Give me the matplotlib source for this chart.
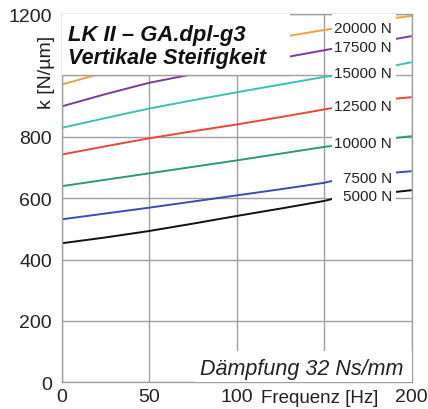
import matplotlib
matplotlib.use('Agg')
import matplotlib.pyplot as plt
from matplotlib.patches import Rectangle

# data
freq = [0, 25, 50, 75, 100, 125, 150, 158, 192, 200]
k_5000 = [453, 472, 493, 517, 542, 566, 591, 602, 621, 626]
k_7500 = [531, 550, 569, 589, 609, 629, 650, 661, 684, 688]
k_10000 = [639, 660, 681, 702, 723, 745, 767, 772, 797, 802]
k_12500 = [742, 769, 795, 818, 840, 864, 889, 897, 925, 929]
k_15000 = [829, 861, 892, 919, 945, 970, 995, 1001, 1034, 1043]
k_17500 = [899, 939, 976, 1004, 1030, 1056, 1082, 1090, 1120, 1128]
k_20000 = [970, 1010, 1046, 1075, 1100, 1124, 1148, 1155, 1188, 1194]

loads = ['5000 N', '7500 N', '10000 N', '12500 N', '15000 N', '17500 N', '20000 N']
series = [k_5000, k_7500, k_10000, k_12500, k_15000, k_17500, k_20000]
colors = ['#111111', '#3a4db0', '#2e9a6c', '#e8453c', '#3dbfb6', '#7a3c9c', '#f2a040']
label_y = [612, 671, 785, 906, 1012, 1099, 1160]

yticks = [0, 200, 400, 600, 800, 1200]
xticks = [0, 50, 100, 150, 200]
xticklabels = ['0', '50', '100', '', '200']

plt.rcParams['font.family'] = ['Liberation Sans', 'DejaVu Sans']

fig = plt.figure(figsize=(4.28, 4.10), dpi=100)
ax = fig.add_axes([0.1442, 0.0651, 0.962 - 0.1442, 0.9634 - 0.0651])

grey = '#a0a0a0'
for k, c in zip(series, colors):
    ax.plot(freq, k, color=c, lw=1.4, zorder=2, solid_capstyle='butt')

ax.set_xlim(0, 200)
ax.set_ylim(0, 1200)
ax.set_xticks(xticks)
ax.set_xticklabels(xticklabels)
ax.set_yticks(yticks)
ax.set_yticks([1000], minor=True)
ax.grid(True, which='both', color=grey, lw=1.0)
ax.set_axisbelow(True)
ax.tick_params(which='both', length=0, labelsize=14, colors='#222222')
ax.tick_params(axis='x', pad=4)
ax.tick_params(axis='y', pad=7)
for s in ax.spines.values():
    s.set_color(grey)
    s.set_linewidth(1.0)

# white boxes that hide lines and grid
ax.add_patch(Rectangle((0, 1000), 130.5, 200, facecolor='white', edgecolor='none', zorder=3))
ax.hlines(1000, 0, 130.5, color=grey, lw=1.0, zorder=3.5)
ax.add_patch(Rectangle((154.5, 585), 36.5, 615, facecolor='white', edgecolor='none', zorder=3))
ax.add_patch(Rectangle((76, 0), 124, 102, facecolor='white', edgecolor='none', zorder=3))

# title
ax.text(3.6, 1133, 'LK II \u2013 GA.dpl-g3', fontsize=15.8, fontweight='bold', style='italic',
        ha='left', va='center', color='#111111', zorder=4)
ax.text(3.6, 1058, 'Vertikale Steifigkeit', fontsize=15.5, fontweight='bold', style='italic',
        ha='left', va='center', color='#111111', zorder=4)

# load labels
for name, y in zip(loads, label_y):
    ax.text(188.7, y, name, fontsize=11, ha='right', va='center_baseline', color='#222222', zorder=4)

ax.text(79, 45, 'D\u00e4mpfung 32 Ns/mm', fontsize=15.5, style='italic',
        ha='left', va='center', color='#222222', zorder=4)

ax.text(147.5, -50, 'Frequenz [Hz]', fontsize=13.5, ha='center', va='center', color='#222222',
        clip_on=False)
ax.text(-8.5, 1013, 'k [N/\u00b5m]', fontsize=14, rotation=90, ha='center', va='center',
        color='#222222', clip_on=False)

fig.savefig('out.png', dpi=100)
